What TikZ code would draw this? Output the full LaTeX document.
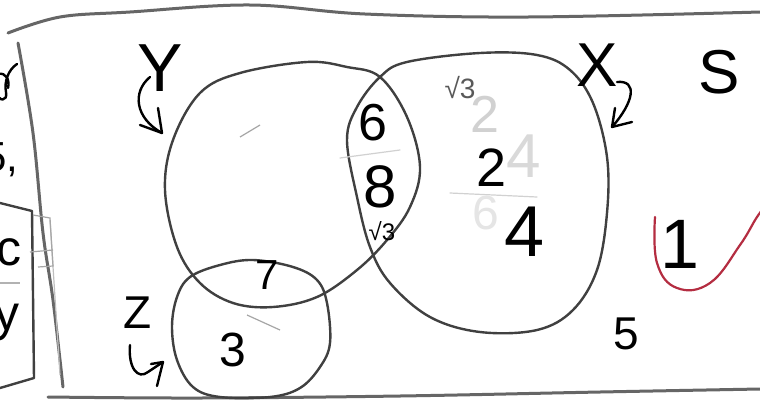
\documentclass[tikz,border=0pt]{standalone}
\usepackage{fontspec}
\setmainfont{Liberation Sans}
\usetikzlibrary{calc}
\newcommand\hfs[1]{\fontsize{#1}{#1}\selectfont}
\begin{document}
\begin{tikzpicture}[x=0.5pt,y=-0.5pt,
  pencil/.style={line width=1.2pt, draw=black!75, line cap=round, line join=round},
  border/.style={line width=1.5pt, draw=black!60, line cap=round},
  ink/.style={line width=1.2pt, draw=black, line cap=round, line join=round},
  lab/.style={inner sep=0pt, text=black},
  faint/.style={line width=0.6pt, draw=black!18, line cap=round},
  redline/.style={line width=1.1pt, draw={rgb,255:red,180;green,45;blue,65}, line cap=round},
]
\useasboundingbox (0,0) rectangle (760,402);
\fill[white] (0,0) rectangle (760,402);

% page borders
\draw[border] plot[smooth, tension=0.6] coordinates {(8,33) (60,17) (130,12) (250,5) (365,14) (528,17) (760,12)};
\draw[border] plot[smooth, tension=0.6] coordinates {(48,397) (200,398) (400,396) (600,392) (760,389)};
\draw[border] plot[smooth, tension=0.6] coordinates {(18,43) (33,133) (43,233) (53,300) (63,387)};
\draw[line width=0.6pt, draw=black!25] (50,220) -- (60,375);

% left box
\draw[pencil] (0,203) -- (32,211) -- (34,378) -- (0,388);
\draw[line width=0.6pt, draw=black!35] (33,215) -- (50,218) -- (53,266) -- (38,267);
\draw[line width=0.6pt, draw=black!35] (30,252) -- (53,250);
\draw[line width=0.6pt, draw=black!30] (0,283) -- (20,283);
\draw[ink] (17,64) .. controls (8,70) and (4,82) .. (6,92) .. controls (8,102) and (-2,102) .. (-3,92);
\draw[ink] (-2,74) .. controls (6,72) and (10,80) .. (8,88);
\node[lab, anchor=east] (l5) at (19,160) {\hfs{21}5,};
\node[lab] (lc) at (9,252) {\hfs{25}c};
\node[lab, anchor=east] (ly) at (20,322) {\hfs{25}y};

% circles
\draw[pencil] plot[smooth cycle, tension=0.6] coordinates {(240,73) (307,62) (347,67) (380,77) (407,117) (420,167) (410,207) (387,240) (357,270) (317,297) (273,307) (233,303) (200,283) (177,247) (165,190) (173,140) (200,93)};
\draw[pencil] plot[smooth cycle, tension=0.6] coordinates {(407,62) (480,53) (537,55) (570,70) (593,103) (607,157) (607,213) (597,270) (573,310) (537,330) (480,332) (430,317) (390,283) (370,247) (357,197) (347,140) (357,107) (380,77)};
\draw[pencil] plot[smooth cycle, tension=0.6] coordinates {(220,265) (253,260) (293,267) (317,280) (327,303) (330,343) (320,367) (300,388) (270,397) (220,397) (193,387) (177,360) (172,327) (177,297) (190,277)};

% faint marks
\draw[faint] (340,158) -- (400,150);
\draw[faint] (450,193) -- (537,197);
\draw[line width=0.6pt, draw=black!35] (240,137) -- (260,125);
\draw[line width=0.6pt, draw=black!35] (247,315) -- (280,330);

% labels
\node[lab] (Y) at (160,68) {\hfs{34}Y};
\node[lab] (X) at (597,65) {\hfs{31}X};
\node[lab] (S) at (719,72) {\hfs{31}S};
\node[lab] (Z) at (138,313) {\hfs{23}Z};

% arrows
\coordinate (ya) at (150,77);
\coordinate (yt) at (162,133);
\draw[ink] (ya) .. controls (132,92) and (135,118) .. (yt);
\draw[ink] ($(yt)+(-22,-8)$) -- (yt) -- ++(-4,-25);
\coordinate (xa) at (617,82);
\coordinate (xt) at (612,127);
\draw[ink] (xa) .. controls (638,80) and (634,102) .. (xt);
\draw[ink] ($(xt)+(3,-19)$) -- (xt) -- ++(20,-5);
\coordinate (za) at (130,345);
\coordinate (zt) at (163,362);
\draw[ink] (za) .. controls (128,368) and (138,380) .. (148,372) -- (zt);
\draw[ink] ($(zt)+(-12,2)$) -- (zt) -- ++(-6,24);

% numbers
\node[lab] (n6) at (373,123) {\hfs{26}6};
\node[lab] (n8) at (380,187) {\hfs{30}8};
\node[lab] (r3a) at (382,231) {\hfs{12}√3};
\node[lab, text=black!65] (r3b) at (460,88) {\hfs{14}√3};
\node[lab, text=black!18] (f2) at (485,114) {\hfs{26}2};
\node[lab, text=black!15] (f4) at (524,156) {\hfs{31}4};
\node[lab, text=black!10] (f6) at (486,213) {\hfs{24}6};
\node[lab] (n2) at (492,168) {\hfs{27}2};
\node[lab] (n4) at (525,232) {\hfs{36}4};
\node[lab] (n7) at (267,275) {\hfs{21}7};
\node[lab] (n3) at (233,350) {\hfs{24}3};
\node[lab] (n5) at (626,334) {\hfs{23}5};
\node[lab] (n1) at (680,244) {\hfs{35}1};

% red curve
\draw[redline] plot[smooth, tension=0.7] coordinates {(655,217) (657,263) (677,288) (710,283) (740,245) (757,217) (768,203)};
\end{tikzpicture}
\end{document}
